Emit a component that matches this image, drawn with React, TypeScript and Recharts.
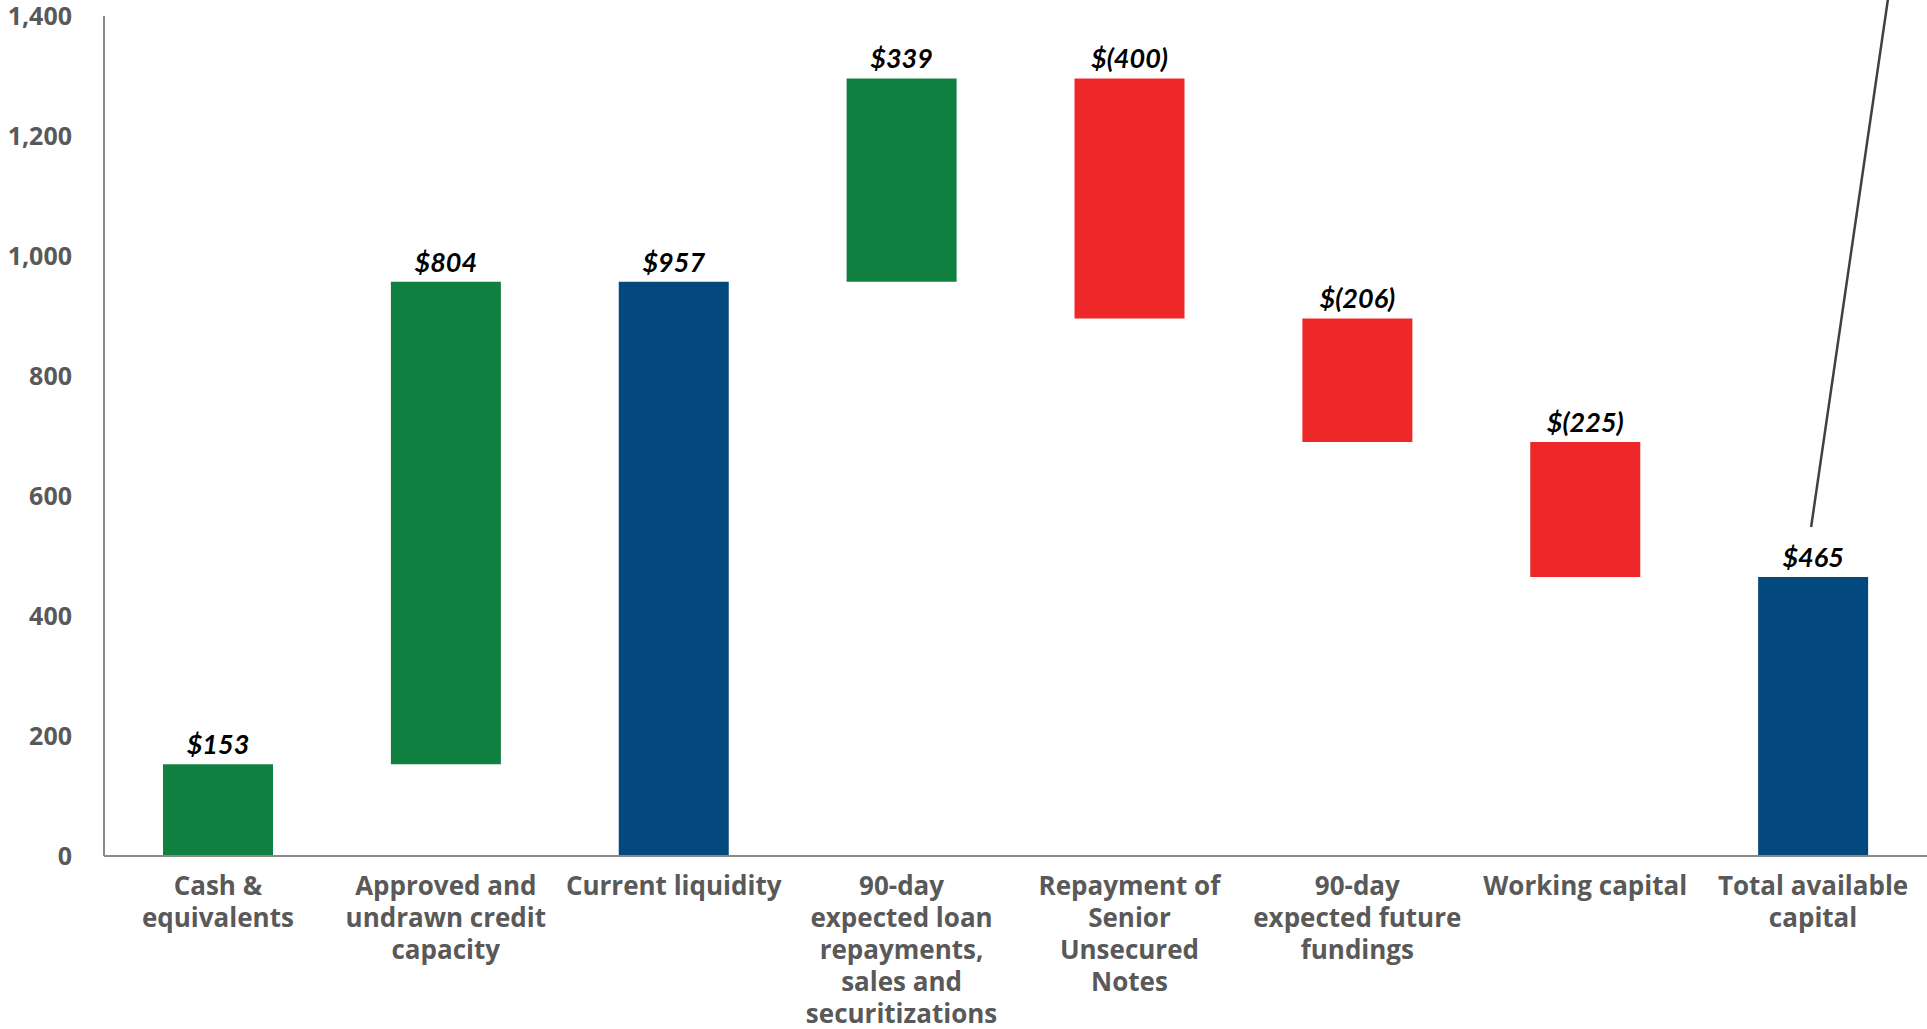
import { BarChart, Bar, XAxis, YAxis, Cell, LabelList } from "recharts"

// Liquidity waterfall ($ millions)
const categories = [
  "Cash &\nequivalents",
  "Approved and\nundrawn credit\ncapacity",
  "Current liquidity",
  "90-day\nexpected loan\nrepayments,\nsales and\nsecuritizations",
  "Repayment of\nSenior\nUnsecured\nNotes",
  "90-day\nexpected future\nfundings",
  "Working capital",
  "Total available\ncapital",
]
const bases = [0, 153, 0, 957, 896, 690, 465, 0]
const amounts = [153, 804, 957, 339, 400, 206, 225, 465]
const valueLabels = ["$153", "$804", "$957", "$339", "$(400)", "$(206)", "$(225)", "$465"]
const kinds = ["up", "up", "total", "up", "down", "down", "down", "total"]
const yTicks = [0, 200, 400, 600, 800, 1000, 1200, 1400]

const colors: Record<string, string> = {
  up: "#108040",
  down: "#EE2828",
  total: "#03497D",
}

const data = categories.map((name, i) => ({
  name,
  base: bases[i],
  amount: amounts[i],
  label: valueLabels[i],
  kind: kinds[i],
}))

const TICK_FONT = "'Open Sans', sans-serif"
const LABEL_FONT = "Lato, 'Open Sans', sans-serif"

function CategoryTick({ x, y, payload }: any) {
  const lines = String(payload.value).split("\n")
  return (
    <text
      x={x}
      y={y + 39}
      textAnchor="middle"
      fill="#595959"
      fontFamily={TICK_FONT}
      fontWeight={700}
      fontSize={26}
    >
      {lines.map((line, i) => (
        <tspan key={i} x={x} dy={i === 0 ? 0 : 32}>
          {line}
        </tspan>
      ))}
    </text>
  )
}

function ValueLabel({ x, y, width, index }: any) {
  const cx = x + width / 2
  return (
    <g>
      {index === data.length - 1 && (
        <line x1={cx - 2} y1={y - 50} x2={cx + 75} y2={-2} stroke="#404040" strokeWidth={2.5} />
      )}
      <text
        x={cx}
        y={y - 10}
        textAnchor="middle"
        fill="#000"
        fontFamily={LABEL_FONT}
        fontWeight={700}
        fontStyle="italic"
        fontSize={27}
      >
        {data[index].label}
      </text>
    </g>
  )
}

export default function App() {
  return (
    <div style={{ position: "absolute", left: 0, top: 0, width: 1927, height: 1029, background: "#fff" }}>
      <BarChart
        width={1927}
        height={1029}
        data={data}
        barSize={110}
        margin={{ top: 16, right: 0, bottom: 0, left: 0 }}
      >
        <XAxis
          dataKey="name"
          interval={0}
          height={173}
          tickLine={false}
          tickSize={0}
          tickMargin={0}
          axisLine={{ stroke: "#898989", strokeWidth: 2 }}
          tick={<CategoryTick />}
        />
        <YAxis
          width={104}
          domain={[0, 1400]}
          ticks={yTicks}
          tickLine={false}
          tickSize={0}
          tickMargin={32}
          tickFormatter={(v: number) => v.toLocaleString("en-US")}
          axisLine={{ stroke: "#898989", strokeWidth: 2 }}
          tick={{ fill: "#595959", fontFamily: TICK_FONT, fontWeight: 700, fontSize: 25 }}
        />
        <Bar dataKey="base" stackId="w" fill="transparent" isAnimationActive={false} />
        <Bar dataKey="amount" stackId="w" isAnimationActive={false}>
          {data.map((d, i) => (
            <Cell key={i} fill={colors[d.kind]} />
          ))}
          <LabelList dataKey="label" content={<ValueLabel />} />
        </Bar>
      </BarChart>
    </div>
  )
}
